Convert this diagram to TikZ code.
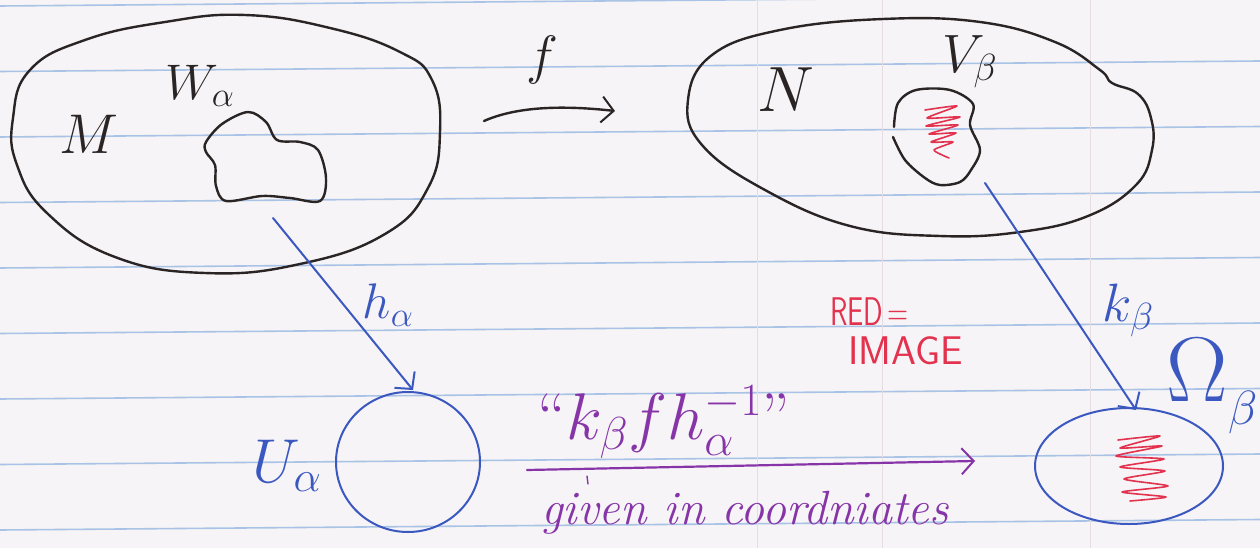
\RequirePackage{fix-cm}
\documentclass[tikz,border=0pt]{standalone}
\usepackage{amsmath}
\usetikzlibrary{arrows.meta}
\definecolor{paper}{HTML}{F6F4F6}
\definecolor{rule}{HTML}{A9C3E6}
\definecolor{fold}{HTML}{E6DCE2}
\definecolor{ink}{HTML}{2A2424}
\definecolor{bpen}{HTML}{3A58C0}
\definecolor{ppen}{HTML}{8634A8}
\definecolor{rpen}{HTML}{E2324E}
\tikzset{
  blackink/.style={draw=ink, line width=2.4pt, line cap=round, line join=round},
  blueink/.style={draw=bpen, line width=2pt, line cap=round, line join=round},
  purpink/.style={draw=ppen, line width=2.2pt, line cap=round, line join=round},
  redink/.style={draw=rpen, line width=1.6pt, line cap=round, line join=round},
  barb/.style={-{Straight Barb[length=12pt,width=26pt,line width=2pt]}},
  lbl/.style={inner sep=0pt, outer sep=0pt},
}
\newcommand{\fs}[1]{\fontsize{#1}{#1}\selectfont}
\begin{document}
\begin{tikzpicture}[x=1pt,y=-1pt]
\fill[paper] (0,0) rectangle (1260,548);
\useasboundingbox (0,0) rectangle (1260,548);
% ruled lines
\foreach \y in {6,71.5,137,202.5,268,333.5,399,464.5,530}
  \draw[rule, line width=1.6pt] (0,\y) -- (1260,\y-10.5);
% faint folds
\foreach \x in {757,882,1090}
  \draw[fold, line width=0.8pt] (\x,0) -- (\x,548);

% M region
\draw[blackink] plot[smooth cycle, tension=0.75] coordinates {
  (13,118) (30,70) (85,40) (165,22) (245,15) (330,28) (400,52) (432,80)
  (440,132) (428,188) (385,234) (300,264) (205,273) (115,257) (48,214) (17,165)};
\node[lbl, ink] (M) at (89,134) {\fs{56}$M$};
% W_alpha
\draw[blackink] plot[smooth cycle, tension=0.55] coordinates {
  (206,142) (222,124) (248,112) (266,122) (277,140) (300,142) (318,150)
  (326,178) (320,201) (290,198) (262,196) (226,201) (216,186) (215,165) (206,152)};
\node[lbl, ink] (W) at (200,86) {\fs{50}$W_{\alpha}$};

% f arrow
\coordinate (fs) at (484,121);
\coordinate (fe) at (615,111);
\draw[blackink, barb] (fs) .. controls (520,105) and (570,106) .. (fe);
\node[lbl, ink] (f) at (542,60) {\fs{54}$f$};

% N region
\draw[blackink] plot[smooth cycle, tension=0.7] coordinates {
  (688,100) (712,55) (780,30) (883,19) (980,22) (1055,42) (1100,70)
  (1112,83) (1138,94) (1151,118) (1152,150) (1136,185) (1088,216)
  (1020,232) (940,236) (850,226) (765,190) (702,145)};
\node[lbl, ink] (N) at (786,90) {\fs{64}$N$};
% V_beta
\draw[blackink] plot[smooth, tension=0.55] coordinates {
  (894,127) (898,103) (916,90) (950,90) (973,104) (970,125) (980,150)
  (971,170) (960,182) (940,185) (925,178) (905,160) (893,137)};
\node[lbl, ink] (V) at (970,62) {\fs{54}$V_{\beta}$};
\draw[redink] plot[smooth, tension=0.4] coordinates {
  (925,110) (957,106) (927,118) (960,117) (926,126) (958,125) (929,134)
  (956,133) (931,142) (953,142) (934,150) (949,158)};

% U_alpha
\draw[blueink] (408,462) ellipse[x radius=72, y radius=70];
\coordinate (Utop) at (413,390);
\node[lbl, bpen] (U) at (287,466) {\fs{62}$U_{\alpha}$};

% h_alpha arrow
\coordinate (hs) at (273,218);
\draw[blueink, barb] (hs) -- (Utop);
\node[lbl, bpen] (h) at (388,305) {\fs{50}$h_{\alpha}$};

% Omega_beta target
\draw[blueink] (1129,466) ellipse[x radius=94, y radius=58];
\coordinate (Otop) at (1136,410);
\draw[redink] plot[smooth, tension=0.4] coordinates {
  (1118,440) (1160,436) (1120,448) (1162,446) (1116,456) (1164,459)
  (1120,467) (1165,471) (1124,479) (1168,486) (1122,492) (1166,497) (1130,501)};
\node[lbl, bpen] (Om) at (1197,370) {\fs{92}$\Omega$};
\node[lbl, bpen, anchor=east] (Omb) at (1258,412) {\fs{48}$\beta$};

% k_beta arrow
\coordinate (ks) at (985,183);
\draw[blueink, barb] (ks) -- (Otop);
\node[lbl, bpen] (k) at (1128,310) {\fs{54}$k_{\beta}$};

% RED = IMAGE
\node[lbl, rpen, anchor=west, xscale=0.72] (red) at (830,312) {\fs{40}\sffamily RED\,=};
\node[lbl, rpen, anchor=west] (img) at (848,351) {\fs{40}\sffamily IMAGE};

% purple arrow
\coordinate (ps) at (527,470);
\coordinate (pe) at (975,461);
\draw[purpink, barb] (ps) -- (pe);
\draw[purpink, line width=1.4pt] (587,476) -- (588,484);
\node[lbl, ppen] (comp) at (664,422) {\fs{66}``$k_\beta f h_\alpha^{-1}$''};
\node[lbl, ppen] (given) at (745,513) {\fs{48}\itshape given in coordniates};
\end{tikzpicture}
\end{document}
